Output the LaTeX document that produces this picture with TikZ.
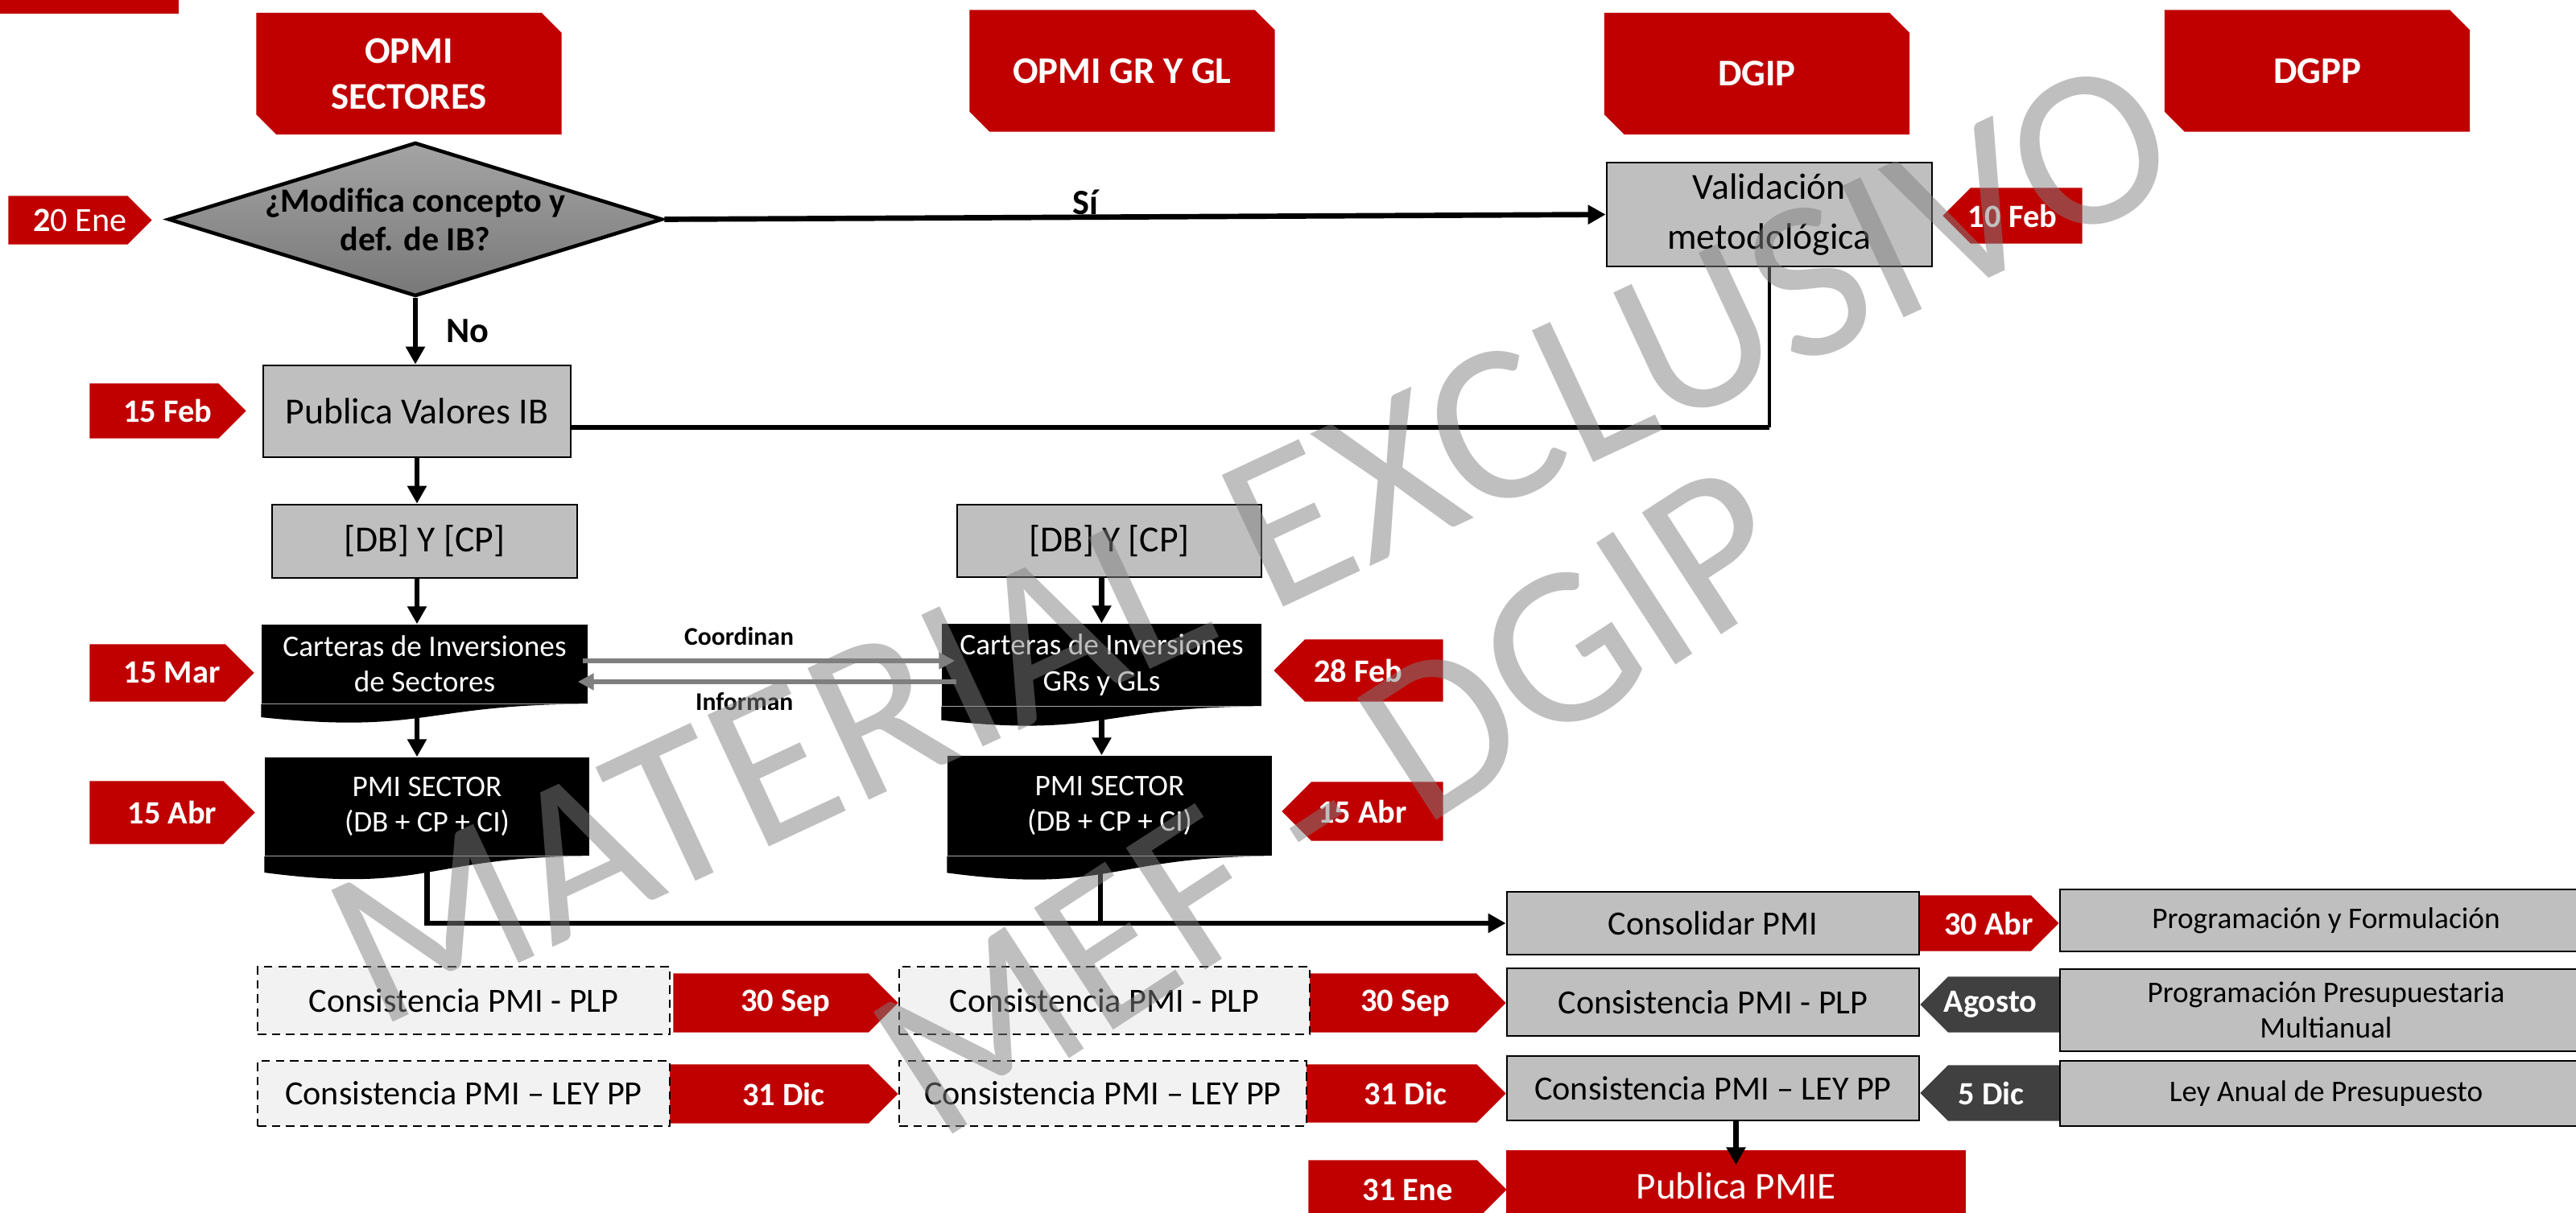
\documentclass[tikz,border=0pt]{standalone}
\usepackage{fontspec}
\setmainfont{Carlito}
\usepackage{tikz}
\usetikzlibrary{shapes.geometric,arrows.meta,calc,positioning,backgrounds}

\definecolor{rojo}{RGB}{192,0,0}
\definecolor{grisCaja}{RGB}{191,191,191}
\definecolor{grisClaro}{RGB}{242,242,242}
\definecolor{grisOscuro}{RGB}{64,64,64}
\definecolor{grisFlecha}{RGB}{127,127,127}
\definecolor{grisRomboA}{RGB}{164,164,164}
\definecolor{grisRomboB}{RGB}{120,120,120}

\newcommand{\tam}[2]{\fontsize{#1}{#2}\selectfont}
% formas de fondo: fechas, cabeceras y documentos
\newcommand{\puntaDer}[2]{\fill[#2] (#1.north west) -- ($(#1.north east)!1!-90:(#1.east)$) -- (#1.east) -- ($(#1.south east)!1!90:(#1.east)$) -- (#1.south west) -- cycle;}
\newcommand{\puntaIzq}[2]{\fill[#2] (#1.north east) -- ($(#1.north west)!1!90:(#1.west)$) -- (#1.west) -- ($(#1.south west)!1!-90:(#1.west)$) -- (#1.south east) -- cycle;}
\newcommand{\chaflan}[1]{\fill[rojo] (#1.north west) -- ([xshift=-0.25cm]#1.north east) -- ([yshift=-0.25cm]#1.north east) -- (#1.south east) -- ([xshift=0.25cm]#1.south west) -- ([yshift=0.25cm]#1.south west) -- cycle;}
\newcommand{\onda}[1]{\fill (#1.south east) .. controls (#1.south) and ($(#1.south)!-0.381!(#1.north)$) .. ($(#1.south west)!-0.1646!(#1.north west)$) -- (#1.south west) -- cycle;}

\begin{document}
\begin{tikzpicture}[y=-1cm,
	cabecera/.style={rectangle, inner sep=0pt, minimum width=3.78cm, minimum height=1.50cm, text=white, align=center, font=\bfseries\tam{13.3}{16.2}},
	fecha/.style={rectangle, inner sep=0pt, text=white, font=\bfseries\tam{11.5}{13.8}},
	rombo/.style={diamond, minimum width=6.14cm, minimum height=1.91cm, inner sep=0pt, draw=black, line width=1.3pt, top color=grisRomboA, bottom color=grisRomboB},
	pregunta/.style={align=center, inner sep=0pt, font=\bfseries\tam{12}{13.7}},
	caja/.style={rectangle, draw=black, line width=0.8pt, fill=grisCaja, inner sep=0pt, align=center, font=\tam{12}{14.4}},
	cajaDer/.style={caja, minimum width=6.61cm, font=\tam{10.6}{12.4}},
	punteada/.style={caja, fill=grisClaro, minimum width=5.12cm, dash pattern=on 3pt off 2pt},
	rojoCaja/.style={rectangle, fill=rojo, text=white, inner sep=0pt, font=\tam{13.4}{16}},
	documento/.style={rectangle, fill=black, text=white, inner sep=0pt, align=center, font=\tam{10.6}{12.6}},
	flecha/.style={line width=1.9pt, -{Triangle[length=0.22cm,width=0.23cm]}},
	linea/.style={line width=1.7pt},
	flechaGris/.style={draw=grisFlecha, line width=1.8pt, -{Triangle[length=0.2cm,width=0.2cm]}},
	etiq/.style={inner sep=0pt, font=\bfseries\tam{12.6}{15}},
	etiqP/.style={inner sep=0pt, font=\bfseries\tam{9}{11}},
	marca/.style={text=black!50, text opacity=0.5, font=\tam{80}{96}}
	]
	\useasboundingbox (0,0) rectangle (32,15.07);
	\fill[rojo] (0,0) rectangle (2.22,0.17);

	% cabeceras
	\node[cabecera] (opmiS) at (5.08,0.915) {OPMI\\SECTORES};
	\node[cabecera] (opmiG) at (13.94,0.88) {OPMI GR Y GL};
	\node[cabecera] (dgip) at (21.825,0.915) {DGIP};
	\node[cabecera] (dgpp) at (28.785,0.88) {DGPP};

	% columna sectores
	\node[rombo] (decide) at (5.16,2.725) {};
	\node[pregunta] (decideT) at (decide.center) {¿Modifica concepto y\\def. de IB?};
	\node[caja, minimum width=3.82cm, minimum height=1.14cm, font=\tam{13}{15.6}] (pubIB) at (5.18,5.11) {Publica Valores IB};
	\node[caja, minimum width=3.79cm, minimum height=0.91cm, font=\tam{13}{15.6}] (dbS) at (5.275,6.725) {[DB] Y [CP]};
	\node[documento, minimum width=4.05cm, minimum height=0.98cm] (cartS) at (5.275,8.25) {Carteras de Inversiones\\de Sectores};
	\node[documento, minimum width=4.03cm, minimum height=1.22cm] (pmiS) at (5.305,10.02) {PMI SECTOR\\(DB + CP + CI)};

	% columna gobiernos regionales y locales
	\node[caja, minimum width=3.78cm, minimum height=0.90cm, font=\tam{13}{15.6}] (dbG) at (13.78,6.72) {[DB] Y [CP]};
	\node[documento, minimum width=3.97cm, minimum height=1.02cm] (cartG) at (13.685,8.26) {Carteras de Inversiones\\GRs y GLs};
	\node[documento, minimum width=4.03cm, minimum height=1.24cm] (pmiG) at (13.785,10.01) {PMI SECTOR\\(DB + CP + CI)};
	\onda{cartS} \onda{pmiS} \onda{cartG} \onda{pmiG}

	% columna DGIP
	\node[caja, minimum width=4.04cm, minimum height=1.29cm, font=\tam{13}{17.6}] (valid) at (21.98,2.665) {Validación\\metodológica};
	\node[caja, minimum width=5.12cm, minimum height=0.78cm] (consol) at (21.28,11.47) {Consolidar PMI};
	\node[caja, minimum width=5.12cm, minimum height=0.84cm] (plpD) at (21.28,12.45) {Consistencia PMI - PLP};
	\node[caja, minimum width=5.12cm, minimum height=0.80cm] (leyD) at (21.28,13.52) {Consistencia PMI – LEY PP};
	\node[rojoCaja, minimum width=5.71cm, minimum height=0.88cm] (pmie) at (21.565,14.73) {Publica PMIE};

	% columna DGPP
	\node[cajaDer, minimum height=0.77cm] (progF) at (28.895,11.435) {Programación y Formulación};
	\node[cajaDer, minimum height=1.02cm] (progP) at (28.895,12.55) {Programación Presupuestaria\\Multianual};
	\node[cajaDer, minimum height=0.81cm] (leyA) at (28.895,13.585) {Ley Anual de Presupuesto};

	% consistencias de sectores y GR/GL
	\node[punteada, minimum height=0.84cm] (plpS) at (5.76,12.43) {Consistencia PMI - PLP};
	\node[punteada, minimum height=0.81cm] (leyS) at (5.76,13.585) {Consistencia PMI – LEY PP};
	\node[punteada, minimum width=5.10cm, minimum height=0.84cm] (plpG) at (13.72,12.43) {Consistencia PMI - PLP};
	\node[punteada, minimum width=5.06cm, minimum height=0.81cm] (leyG) at (13.70,13.585) {Consistencia PMI – LEY PP};

	% fechas
	\node[fecha, minimum width=1.77cm, minimum height=0.59cm, font=\tam{12}{14}] (f20ene) at (0.995,2.735) {{\bfseries 2}0 Ene};
	\node[fecha, minimum width=1.93cm, minimum height=0.67cm] (f15feb) at (2.085,5.105) {15 Feb};
	\node[fecha, minimum width=2.03cm, minimum height=0.70cm] (f15mar) at (2.135,8.36) {15 Mar};
	\node[fecha, minimum width=2.04cm, minimum height=0.77cm] (f15abrS) at (2.14,10.095) {15 Abr};
	\node[fecha, minimum width=1.72cm, minimum height=0.68cm] (f10feb) at (25.0,2.68) {10 Feb};
	\node[fecha, minimum width=2.09cm, minimum height=0.76cm] (f28feb) at (16.875,8.33) {28 Feb};
	\node[fecha, minimum width=1.99cm, minimum height=0.72cm] (f15abrG) at (16.925,10.08) {15 Abr};
	\node[fecha, minimum width=1.73cm, minimum height=0.68cm] (f30abr) at (24.705,11.47) {30 Abr};
	\node[fecha, minimum width=2.78cm, minimum height=0.72cm] (f30sepS) at (9.76,12.46) {30 Sep};
	\node[fecha, minimum width=2.83cm, minimum height=0.72cm] (f31dicS) at (9.735,13.59) {31 Dic};
	\node[fecha, minimum width=2.48cm, minimum height=0.72cm] (f30sepG) at (17.46,12.46) {30 Sep};
	\node[fecha, minimum width=2.48cm, minimum height=0.71cm] (f31dicG) at (17.46,13.585) {31 Dic};
	\node[fecha, minimum width=2.45cm, minimum height=0.72cm] (f31ene) at (17.485,14.78) {31 Ene};
	\node[fecha, minimum width=1.73cm, minimum height=0.68cm] (fAgosto) at (24.725,12.48) {Agosto};
	\node[fecha, minimum width=1.75cm, minimum height=0.68cm] (f5dic) at (24.735,13.58) {5 Dic};

	\begin{scope}[on background layer]
		\foreach \n in {opmiS,opmiG,dgip,dgpp} {\chaflan{\n}}
		\foreach \n in {f20ene,f15feb,f15mar,f15abrS,f30abr,f30sepS,f31dicS,f30sepG,f31dicG,f31ene} {\puntaDer{\n}{rojo}}
		\foreach \n in {f10feb,f28feb,f15abrG} {\puntaIzq{\n}{rojo}}
		\foreach \n in {fAgosto,f5dic} {\puntaIzq{\n}{grisOscuro}}
	\end{scope}

	% conectores
	\draw[flecha] (decide.south) -- (decide.south |- pubIB.north) node[midway, anchor=west, xshift=0.35cm, etiq] (lblNo) {No};
	\draw[flecha] (decide.east) -- (valid.west) node[pos=0.447, yshift=0.18cm, etiq] (lblSi) {Sí};
	\coordinate (esquina) at (valid.south |- 0,5.31);
	\draw[linea] ($(pubIB.east)+(0,0.2)$) -- (esquina);
	\draw[line width=0.9pt] (esquina) -- (valid.south);
	\draw[flecha] (pubIB.south) -- (pubIB.south |- dbS.north);
	\draw[flecha] (pubIB.south |- dbS.south) -- (pubIB.south |- cartS.north);
	\draw[flecha] (pubIB.south |- cartS.south) -- (pubIB.south |- pmiS.north);
	\draw[flecha] (dbG.south -| cartG.north) -- (cartG.north);
	\draw[flecha] (cartG.south) -- (cartG.south |- pmiG.north);
	\draw[flechaGris] ($(cartS.east)+(-0.07,-0.04)$) -- ($(cartG.west |- cartS.east)+(0.17,-0.04)$) node[pos=0.42, above=0.16cm, etiqP] (lblCoord) {Coordinan};
	\draw[flechaGris] ($(cartG.west |- cartS.east)+(0.19,0.22)$) -- ($(cartS.east)+(-0.13,0.22)$) node[pos=0.56, below=0.10cm, etiqP] (lblInf) {Informan};
	\draw[flecha] (pmiS.south) |- (consol.west);
	\draw[linea] ([xshift=-0.12cm]pmiG.south) -- ([xshift=-0.12cm]pmiG.south |- consol.west);
	\draw[flecha] (leyD.south -| pmie.north) -- ([yshift=-0.19cm]pmie.north);

	% marca de agua
	\node[marca, rotate=25] (marca1) at (15.55,6.73) {MATERIAL EXCLUSIVO};
	\node[marca, rotate=33] (marca2) at (16.55,9.95) {MEF - DGIP};
\end{tikzpicture}
\end{document}
